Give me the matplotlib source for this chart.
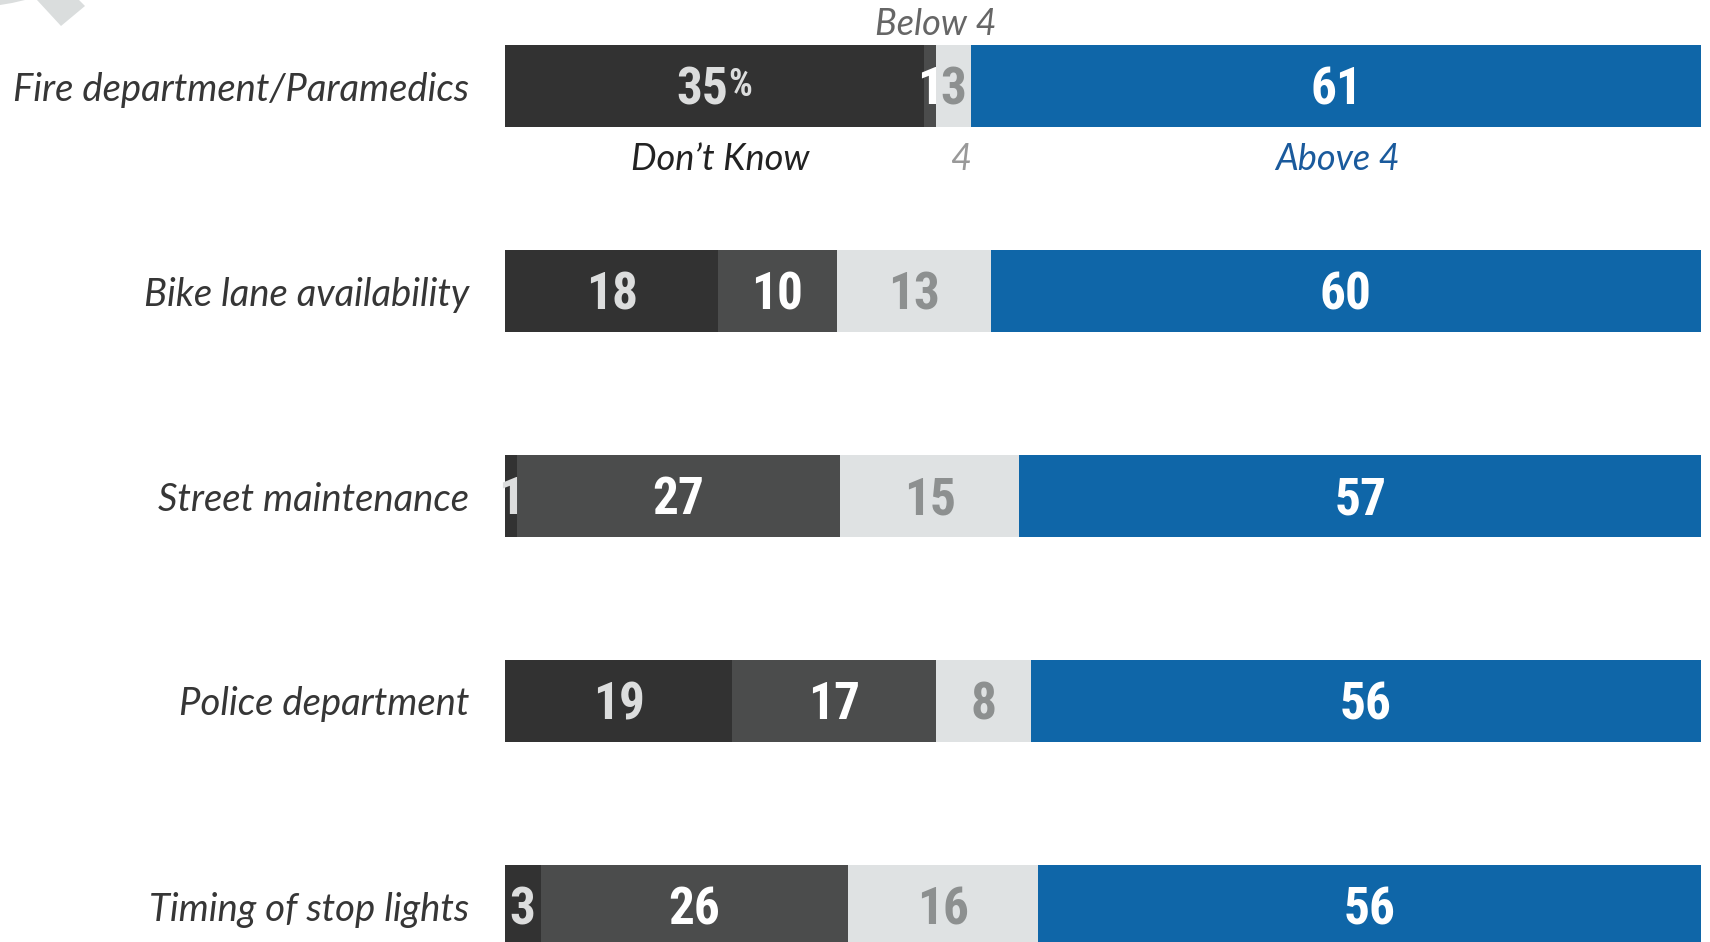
import matplotlib
matplotlib.use("Agg")
import matplotlib.pyplot as plt
from matplotlib import font_manager
from matplotlib.patches import Polygon


categories = [
    "Fire department/Paramedics",
    "Bike lane availability",
    "Street maintenance",
    "Police department",
    "Timing of stop lights",
]

# share of respondents (%)
dont_know = [35, 18, 1, 19, 3]
below_4 = [1, 10, 27, 17, 26]
rated_4 = [3, 13, 15, 8, 16]
above_4 = [61, 60, 57, 56, 56]

COLORS = ["#323232", "#4b4c4c", "#dfe2e3", "#0f66a8"]
TEXT_COLORS = ["#dcdddd", "#ffffff", "#8d9090", "#ffffff"]


def pick_font(candidates, **props):
    for name in candidates:
        fp = font_manager.FontProperties(family=name, **props)
        try:
            font_manager.findfont(fp, fallback_to_default=False)
            return name
        except ValueError:
            continue
    return "DejaVu Sans"


NUM_FONT = pick_font(["Liberation Sans Narrow", "Roboto Condensed", "DejaVu Sans"], weight="bold")
CAT_FONT = pick_font(["Lato", "Open Sans", "DejaVu Sans"], style="italic")

W, H = 1710, 942
fig = plt.figure(figsize=(W / 100, H / 100), dpi=100)
ax = fig.add_axes([505 / W, 0, 1196 / W, 1])

segments = [dont_know, below_4, rated_4, above_4]
rows = list(range(len(categories)))

# some rows add up to 101 because of rounding; bars always fill the width
totals = [sum(seg[i] for seg in segments) for i in rows]
lefts = [0.0] * len(rows)
for k, seg in enumerate(segments):
    widths = [seg[i] / totals[i] * 100 for i in rows]
    ax.barh(rows, widths, left=lefts, height=0.4, color=COLORS[k], linewidth=0)
    for i in rows:
        cx = lefts[i] + widths[i] / 2
        if i == 0 and k == 0:
            t = ax.text(cx - 1.0, i + 0.02, str(seg[i]), ha="center", va="center", fontsize=37,
                        fontweight="bold", family=NUM_FONT, color=TEXT_COLORS[k])
            ax.annotate("%", xy=(1, 0.97), xycoords=t, ha="left", va="top", fontsize=27,
                        fontweight="bold", family=NUM_FONT, color=TEXT_COLORS[k])
        else:
            ax.text(cx, i + 0.02, str(seg[i]), ha="center", va="center", fontsize=37,
                    fontweight="bold", family=NUM_FONT, color=TEXT_COLORS[k])
    lefts = [lefts[i] + widths[i] for i in rows]

ax.set_xlim(0, 100)
ax.set_ylim((H - 86) / 205, -86 / 205)
ax.set_yticks(rows, labels=categories)
ax.tick_params(axis="y", length=0, pad=26)
for lab in ax.get_yticklabels():
    lab.set_fontsize(27.5)
    lab.set_fontstyle("italic")
    lab.set_family(CAT_FONT)
    lab.set_color("#363636")
ax.set_xticks([])
for spine in ax.spines.values():
    spine.set_visible(False)

# legend-style labels around the first bar
ax.text(36.0, -0.30, "Below 4", ha="center", va="center", fontsize=26, style="italic",
        family=CAT_FONT, color="#666666")
ax.text(18.0, 0.36, "Don\u2019t Know", ha="center", va="center", fontsize=26, style="italic",
        family=CAT_FONT, color="#222222")
ax.text(38.1, 0.36, "4", ha="center", va="center", fontsize=26, style="italic",
        family=CAT_FONT, color="#999999")
ax.text(69.6, 0.36, "Above 4", ha="center", va="center", fontsize=26, style="italic",
        family=CAT_FONT, color="#1a5a9c")

# decorative grey fragment in the top-left corner
for pts in ([(0, 0), (0, 5), (12, 3), (25, 0)], [(37, 0), (61, 26), (85, 6), (79, 0)]):
    fig.patches.append(Polygon([(x / W, 1 - y / H) for x, y in pts], closed=True,
                               transform=fig.transFigure, color="#dadddd", lw=0))

fig.savefig("out.png", dpi=100)
